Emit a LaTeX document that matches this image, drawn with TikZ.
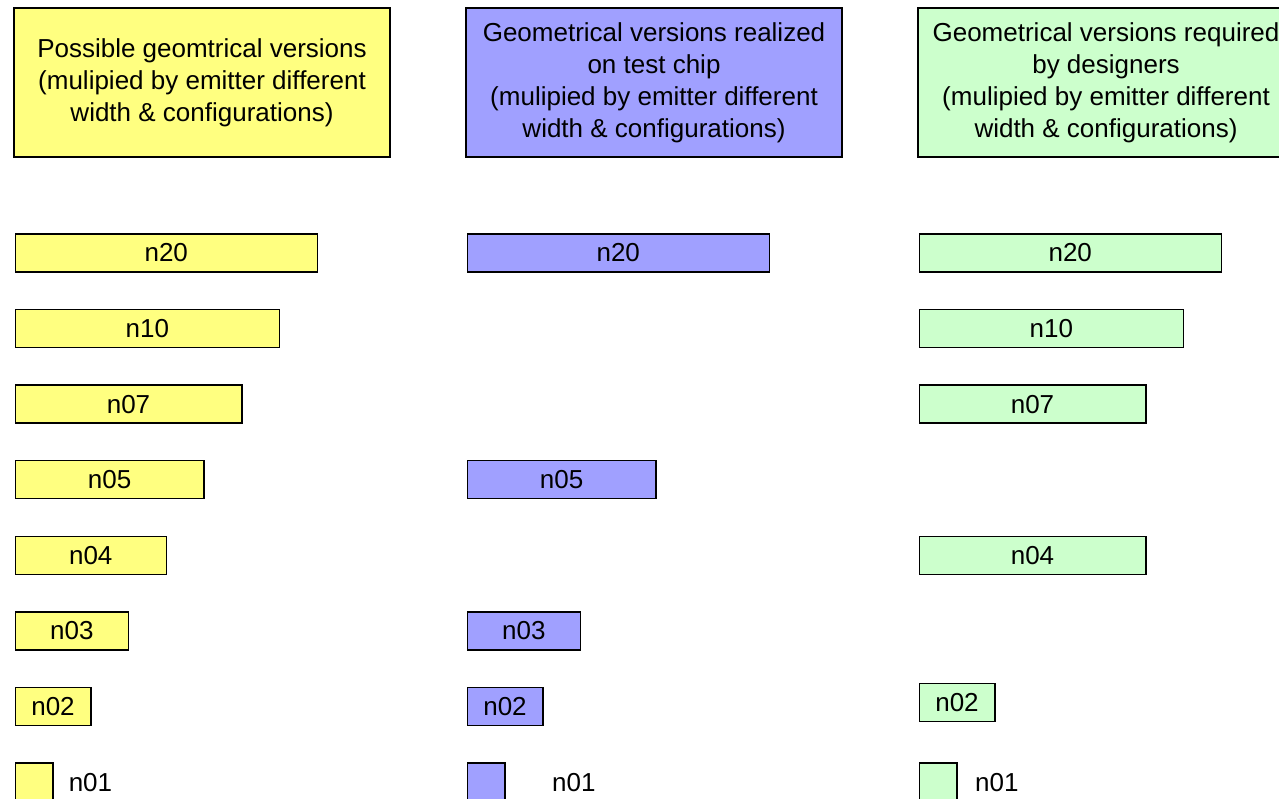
\documentclass[tikz,border=0pt]{standalone}
\usepackage{fontspec}
\setmainfont{Liberation Sans}
\usetikzlibrary{positioning}
\definecolor{possyellow}{RGB}{255,255,128}
\definecolor{chipblue}{RGB}{160,160,255}
\definecolor{desgreen}{RGB}{204,255,204}
\tikzset{
    headbox/.style={draw, line width=0.75pt, minimum width=188pt, minimum height=74.5pt, align=center, inner sep=0pt},
    bar/.style={draw, line width=0.75pt, minimum height=19pt, inner sep=0pt, anchor=west, minimum width=#1*18.875pt},
    tag/.style={inner sep=0pt, anchor=west},
}
\begin{document}
\begin{tikzpicture}[
            x=0.5pt, y=-0.5pt,
            every node/.style={font=\fontsize{13}{16}\selectfont}
        ]
            \clip (0,0) rectangle (1279,798);
            \pgfmathsetmacro{\xleft}{14.5}
            \pgfmathsetmacro{\xmid}{466.5}
            \pgfmathsetmacro{\xright}{918.5}
            % 三个标题框
            \node[headbox, fill=possyellow] (yhead) at (202,82.5) {Possible geomtrical versions\\(mulipied by emitter different\\width \& configurations)};
            \node[headbox, fill=chipblue] (bhead) at (654,82.5) {Geometrical versions realized\\on test chip\\(mulipied by emitter different\\width \& configurations)};
            \node[headbox, fill=desgreen] (ghead) at (1106,82.5) {Geometrical versions required\\by designers\\(mulipied by emitter different\\width \& configurations)};

            % 左列：所有可能的版本
            \node[bar=8, fill=possyellow] (yn20) at (\xleft,253) {n20};
            \node[bar=7, fill=possyellow] (yn10) at (\xleft,328.6) {n10};
            \node[bar=6, fill=possyellow] (yn07) at (\xleft,404.2) {n07};
            \node[bar=5, fill=possyellow] (yn05) at (\xleft,479.7) {n05};
            \node[bar=4, fill=possyellow] (yn04) at (\xleft,555.3) {n04};
            \node[bar=3, fill=possyellow] (yn03) at (\xleft,630.9) {n03};
            \node[bar=2, fill=possyellow] (yn02) at (\xleft,706.5) {n02};
            \node[bar=1, fill=possyellow] (yn01) at (\xleft,782.1) {};
            \node[tag, right=7.3pt of yn01] (yn01tag) {n01};

            % 中列：测试芯片上实现的版本
            \node[bar=8, fill=chipblue] (bn20) at (\xmid,253) {n20};
            \node[bar=5, fill=chipblue] (bn05) at (\xmid,479.7) {n05};
            \node[bar=3, fill=chipblue] (bn03) at (\xmid,630.9) {n03};
            \node[bar=2, fill=chipblue] (bn02) at (\xmid,706.5) {n02};
            \node[bar=1, fill=chipblue] (bn01) at (\xmid,782.1) {};
            \node[tag, right=23pt of bn01] (bn01tag) {n01};

            % 右列：设计者需要的版本
            \node[bar=8, fill=desgreen] (gn20) at (\xright,253) {n20};
            \node[bar=7, fill=desgreen] (gn10) at (\xright,328.6) {n10};
            \node[bar=6, fill=desgreen] (gn07) at (\xright,404.2) {n07};
            \node[bar=6, fill=desgreen] (gn04) at (\xright,555.3) {n04};
            \node[bar=2, fill=desgreen] (gn02) at (\xright,702.5) {n02};
            \node[bar=1, fill=desgreen] (gn01) at (\xright,782.1) {};
            \node[tag, right=8.5pt of gn01] (gn01tag) {n01};

        \end{tikzpicture}
\end{document}
